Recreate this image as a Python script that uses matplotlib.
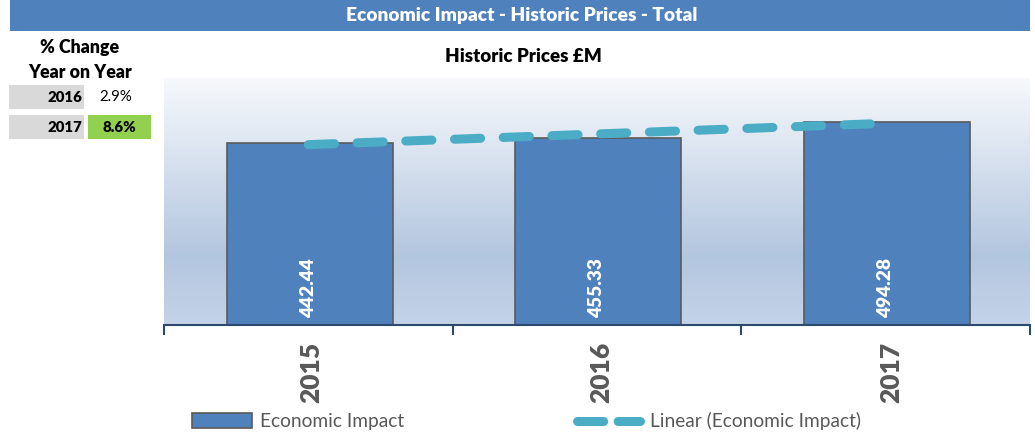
import matplotlib.pyplot as plt
import numpy as np
from matplotlib.patches import Rectangle
from matplotlib.colors import LinearSegmentedColormap
from matplotlib.lines import Line2D

plt.rcParams['font.family'] = ['Lato', 'DejaVu Sans']

# data
years = ['2015', '2016', '2017']
impact = [442.44, 455.33, 494.28]
change_years = ['2016', '2017']
change_pct = ['2.9%', '8.6%']

W, H = 1035, 438
fig = plt.figure(figsize=(W / 100, H / 100), dpi=100)

def fx(px):
    return px / W

def fy(py):
    return 1 - py / H

# title bar
fig.patches.append(Rectangle((fx(10), fy(31)), fx(1020), 31 / H, transform=fig.transFigure,
                             facecolor='#4f81bd', edgecolor='none'))
fig.text(fx(522), fy(16), 'Economic Impact - Historic Prices - Total', color='white',
         fontsize=13.8, fontweight='heavy', ha='center', va='center')

# left table
fig.text(fx(80), fy(48), '% Change', fontsize=12.8, fontweight='heavy', ha='center', va='center')
fig.text(fx(80), fy(72), 'Year on Year', fontsize=12.8, fontweight='heavy', ha='center', va='center')
row_y = [85, 115]
for i, (yr, pc) in enumerate(zip(change_years, change_pct)):
    top = row_y[i]
    fig.patches.append(Rectangle((fx(9), fy(top + 24)), fx(75), 24 / H, transform=fig.transFigure,
                                 facecolor='#d9d9d9', edgecolor='none'))
    fig.text(fx(82), fy(top + 12), yr, fontsize=10.8, fontweight='heavy', ha='right', va='center')
    if i == 1:
        fig.patches.append(Rectangle((fx(88), fy(top + 24)), fx(63), 24 / H, transform=fig.transFigure,
                                     facecolor='#92d050', edgecolor='none'))
        fig.text(fx(119), fy(top + 12), pc, fontsize=10.8, fontweight='heavy', ha='center', va='center')
    else:
        fig.text(fx(116), fy(top + 12), pc, fontsize=10.8, ha='center', va='center')

# subtitle
fig.text(fx(523), fy(56), 'Historic Prices £M', fontsize=13.5, fontweight='heavy', ha='center', va='center')

# main axes
ax = fig.add_axes([fx(164), fy(325), fx(866), (325 - 78) / H])
x = np.arange(len(years))
ax.set_xlim(-0.5, 2.5)
ax.set_ylim(0, 600)

cmap = LinearSegmentedColormap.from_list('bg', [(0, '#f7f9fc'), (0.72, '#b3c6df'), (1, '#c4d3e8')])
grad = np.linspace(0, 1, 256).reshape(-1, 1)
ax.imshow(grad, cmap=cmap, extent=[-0.5, 2.5, 0, 600], aspect='auto', zorder=0)

ax.bar(x + 0.005, impact, width=0.575, color='#4f81bd', edgecolor='#5a5a5a', linewidth=1.2, zorder=2,
       label='Economic Impact')
for xi, v in zip(x, impact):
    ax.text(xi, 16, f'{v:.2f}', rotation=90, color='white', fontsize=13.8, fontweight='heavy',
            ha='center', va='bottom', zorder=4)

# linear trend
k, b = np.polyfit(x, impact, 1)
ax.plot(x, k * x + b, color='#4bacc6', linewidth=6.5, dashes=(2.9, 2.5),
        dash_capstyle='round', solid_capstyle='round', zorder=3)

for s in ['top', 'left', 'right']:
    ax.spines[s].set_visible(False)
ax.spines['bottom'].set_color('#2c4a6e')
ax.spines['bottom'].set_linewidth(1.5)
ax.set_yticks([])
ax.set_xticks(x)
ax.set_xticklabels([])
ax.tick_params(axis='x', which='major', length=0)
ax.set_xticks([-0.5, 0.5, 1.5, 2.5], minor=True)
ax.tick_params(axis='x', which='minor', length=7, width=1.5, color='#2c4a6e', direction='out')

for xi, yr in zip(x, years):
    fig.text(fx(311 + 290 * xi), fy(372), yr, rotation=90, fontsize=19, fontweight='heavy',
             color='#595959', ha='center', va='center')

# legend
fig.patches.append(Rectangle((fx(192), fy(428)), fx(60), 15 / H, transform=fig.transFigure,
                             facecolor='#4f81bd', edgecolor='#5a5a5a', linewidth=1.2))
fig.text(fx(260), fy(421), 'Economic Impact', fontsize=13.8, color='#595959', ha='left', va='center')
fig.lines.append(Line2D([fx(577), fx(640)], [fy(421), fy(421)], transform=fig.transFigure,
                        color='#4bacc6', linewidth=6.5, dashes=(2.9, 1.6), dash_capstyle='round'))
fig.text(fx(650), fy(421), 'Linear (Economic Impact)', fontsize=13.8, color='#595959', ha='left', va='center')

fig.savefig('out.png', dpi=100)
